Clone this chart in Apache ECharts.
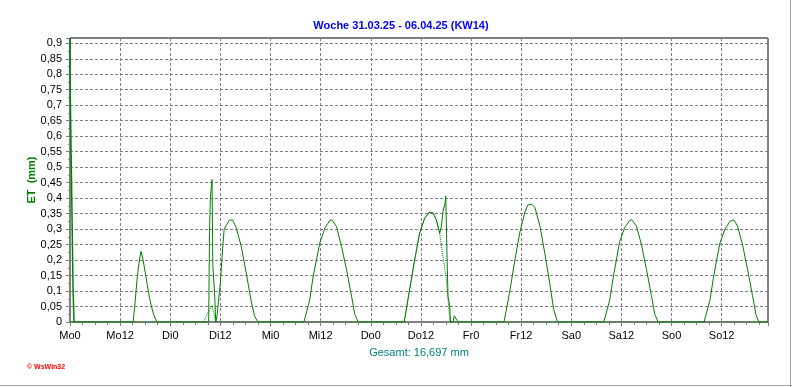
<!DOCTYPE html>
<html>
<head>
<meta charset="utf-8">
<script src="https://cdn.jsdelivr.net/npm/echarts@6/dist/echarts.min.js"></script>
<style>
html,body{margin:0;padding:0;background:#fff;}
#chart{width:792px;height:387px;}
</style>
</head>
<body>
<div id="chart"></div>
<script>
// ---- data (x in hours from Monday 0:00, y in mm) ----
const tickLabels = ['Mo0','Mo12','Di0','Di12','Mi0','Mi12','Do0','Do12','Fr0','Fr12','Sa0','Sa12','So0','So12'];
const xMaxHours = 167.1;
const yTop = 0.917;

const moStart = [[0,0.917],[0.24,0.8],[0.48,0.57],[0.72,0.345],[0.96,0.115],[1.2,0]];
const moBump = [[15.1,0],[15.5,0.05],[16.0,0.13],[16.5,0.19],[17.0,0.228],[17.5,0.2],[18.0,0.16],[18.5,0.12],[19.0,0.08],[19.5,0.05],[20.0,0.025],[20.8,0]];
const diBump = [[33.2,0],[33.4,0.29],[33.6,0.40],[34.0,0.46],[34.2,0.18],[34.6,0.095],[34.9,0],[35.2,0.02],[36.0,0.127],[36.4,0.21],[36.9,0.30],[38.1,0.328],[38.9,0.33],[39.8,0.304],[41.0,0.244],[42.2,0.158],[43.3,0.072],[44.2,0.018],[45.0,0]];
const miBump = [[56.0,0],[57.4,0.072],[58.2,0.147],[59.0,0.2],[59.8,0.255],[61.0,0.303],[62.2,0.328],[62.7,0.33],[63.8,0.308],[65.0,0.244],[66.2,0.169],[67.4,0.083],[68.2,0.024],[69.0,0]];
const doBump = [[80.0,0],[81.3,0.104],[82.5,0.2],[83.7,0.287],[84.9,0.335],[86.1,0.355],[86.9,0.352],[87.7,0.33],[88.5,0.287],[88.9,0.308],[89.3,0.357],[89.8,0.384],[89.95,0.407],[90.3,0.19],[90.5,0.083],[90.9,0.05],[91.1,0],[91.7,0],[92.0,0.02],[92.9,0]];
const frBump = [[103.9,0],[105.3,0.1],[106.5,0.2],[107.7,0.29],[108.9,0.355],[109.6,0.378],[110.6,0.38],[111.3,0.37],[112.5,0.31],[113.7,0.22],[114.9,0.12],[115.8,0.04],[116.7,0]];
const saBump = [[127.8,0],[129.2,0.07],[130.0,0.14],[130.8,0.2],[131.6,0.26],[132.8,0.305],[134.0,0.328],[134.5,0.33],[135.6,0.31],[136.8,0.25],[138.0,0.17],[139.2,0.085],[140.0,0.025],[140.8,0]];
const soBump = [[151.8,0],[153.2,0.07],[154.0,0.14],[154.8,0.2],[155.6,0.255],[156.8,0.3],[158.0,0.325],[158.9,0.33],[159.8,0.31],[161.0,0.25],[162.2,0.17],[163.4,0.085],[164.2,0.025],[164.9,0]];

const dotDi = [[32.0,0],[33.0,0.03],[34.0,0.053],[34.9,0]];
const dotDo = [[80.0,0],[81.3,0.104],[82.5,0.2],[83.7,0.287],[84.9,0.335],[86.1,0.355],[86.9,0.352],[87.7,0.33],[88.5,0.287],[89.3,0.21],[90.1,0.136],[90.5,0.072],[90.9,0.007],[91.1,0]];

const totalText = 'Gesamt: 16,697 mm';
const titleText = 'Woche 31.03.25 - 06.04.25 (KW14)';
const yName = 'ET  (mm)';

// ---- build series ----
const mainData = [[1.2,0]].concat(moBump, diBump, miBump, doBump, frBump, saBump, soBump, [[xMaxHours,0]]);
const dotData = [[0,0]].concat(dotDi, dotDo, [[xMaxHours,0]]);

const green = '#008000';
const FONT = 'Liberation Sans, Arial, sans-serif';

const chart = echarts.init(document.getElementById('chart'), null, {renderer:'canvas'});
chart.setOption({
  animation: false,
  backgroundColor: '#fff',
  title: {
    text: titleText,
    left: 396, textAlign: 'center', top: 15,
    textStyle: {color:'#0000ff', fontSize: 11, fontWeight:'bold', fontFamily: FONT}
  },
  grid: {left: 70, right: 24, top: 38, bottom: 65, show: true, borderColor: '#000', borderWidth: 1, backgroundColor: 'transparent'},
  xAxis: {
    type: 'value', min: 0, max: xMaxHours, interval: 12,
    axisLine: {show: true, lineStyle: {color: '#808080'}},
    axisTick: {show: true, length: 4, lineStyle: {color: '#808080'}},
    minorTick: {show: true, splitNumber: 4, length: 3, lineStyle: {color: '#808080'}},
    axisLabel: {
      color: '#000', fontSize: 11, fontFamily: FONT, margin: 8, showMaxLabel: false,
      formatter: function(v){ const i = Math.round(v/12); return tickLabels[i] !== undefined ? tickLabels[i] : ''; }
    },
    splitLine: {show: true, lineStyle: {color: '#808080', type: [3,2], width: 1}},
    name: totalText, nameLocation: 'middle', nameGap: 25,
    nameTextStyle: {color: '#008080', fontSize: 11, fontFamily: FONT}
  },
  yAxis: {
    type: 'value', min: 0, max: yTop, interval: 0.05,
    axisLine: {show: true, lineStyle: {color: '#808080'}},
    axisTick: {show: true, length: 4, lineStyle: {color: '#808080'}},
    minorTick: {show: true, splitNumber: 2, length: 2, lineStyle: {color: '#808080'}},
    axisLabel: {
      color: '#000', fontSize: 11, fontFamily: FONT, margin: 8, showMaxLabel: false,
      formatter: function(v){ return String(Number(v.toFixed(2))).replace('.', ','); }
    },
    splitLine: {show: true, lineStyle: {color: '#808080', type: [3,2], width: 1}}
  },
  graphic: [
    {type:'text', x: 32, y: 180, rotation: Math.PI/2, style:{text: yName, fill: green, font:'bold 11px ' + FONT, align:'center', verticalAlign:'middle'}},
    {type:'text', left: 27, top: 364, style:{text:'© WsWin32', fill:'#ff0000', font:'bold 7px ' + FONT}},
    {type:'line', shape:{x1:0, y1:385.5, x2:792, y2:385.5}, style:{stroke:'#a0a0a0', lineWidth:1}},
    {type:'line', shape:{x1:790.5, y1:0, x2:790.5, y2:387}, style:{stroke:'#a0a0a0', lineWidth:1}}
  ],
  series: [
    {type:'line', data: dotData, symbol:'none', lineStyle:{color: green, width: 1, type:'dotted'}, z: 2},
    {type:'line', data: mainData, symbol:'none', lineStyle:{color: green, width: 1}, z: 3},
    {type:'line', data: moStart, symbol:'none', step:'start', lineStyle:{color: green, width: 1.5}, z: 4}
  ]
});
</script>
</body>
</html>
